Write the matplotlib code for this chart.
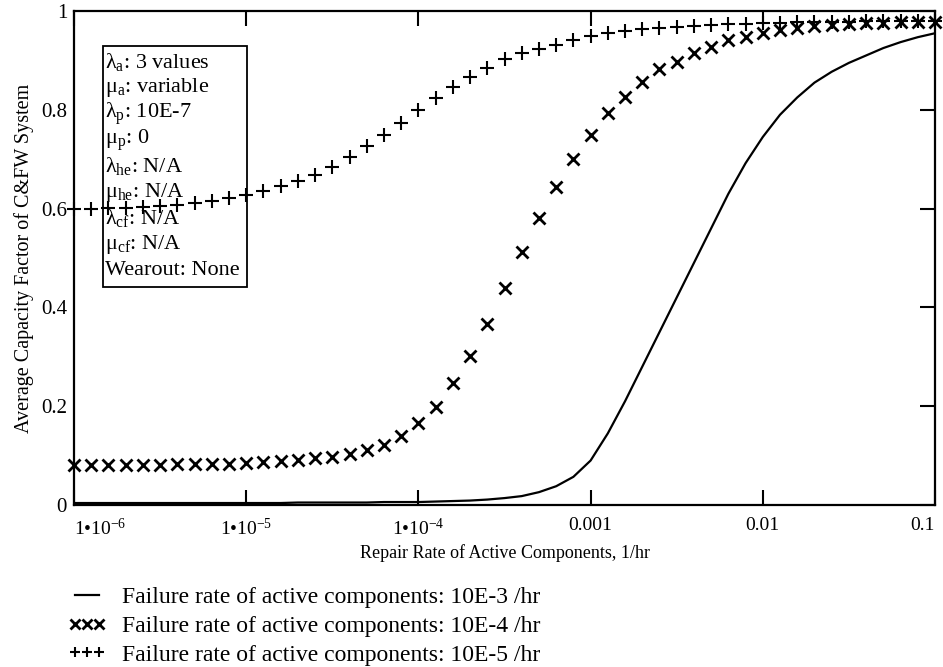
import numpy as np
import matplotlib.pyplot as plt
from matplotlib.patches import Rectangle
from matplotlib.ticker import NullLocator

plt.rcParams['font.family'] = ['Liberation Serif', 'DejaVu Serif']
plt.rcParams['mathtext.fontset'] = 'custom'
plt.rcParams['mathtext.rm'] = 'Liberation Serif'
plt.rcParams['mathtext.it'] = 'Liberation Serif:italic'

# Repair rate grid, 10 points per decade (1/hr)
repair_rate = np.logspace(-6, -1, 51)

# Average capacity factor for three active-component failure rates
acf_fail_1e3 = [0.004, 0.004, 0.004, 0.004, 0.004, 0.004, 0.004, 0.004, 0.004, 0.004,
                0.004, 0.004, 0.004, 0.005, 0.005, 0.005, 0.005, 0.005, 0.006, 0.006,
                0.006, 0.007, 0.008, 0.009, 0.011, 0.014, 0.018, 0.026, 0.038, 0.057,
                0.090, 0.145, 0.210, 0.280, 0.350, 0.420, 0.490, 0.560, 0.630, 0.692,
                0.745, 0.790, 0.825, 0.855, 0.877, 0.895, 0.910, 0.925, 0.937, 0.947,
                0.955]
acf_fail_1e4 = [0.081, 0.081, 0.081, 0.081, 0.081, 0.081, 0.082, 0.082, 0.083, 0.083,
                0.085, 0.087, 0.089, 0.092, 0.095, 0.098, 0.104, 0.111, 0.121, 0.139,
                0.165, 0.199, 0.246, 0.302, 0.367, 0.439, 0.512, 0.581, 0.643, 0.700,
                0.750, 0.794, 0.825, 0.857, 0.883, 0.897, 0.915, 0.927, 0.942, 0.948,
                0.956, 0.962, 0.966, 0.970, 0.972, 0.974, 0.975, 0.976, 0.977, 0.977,
                0.978]
acf_fail_1e5 = [0.600, 0.600, 0.601, 0.602, 0.603, 0.605, 0.608, 0.611, 0.615, 0.621,
                0.628, 0.636, 0.645, 0.656, 0.669, 0.685, 0.705, 0.726, 0.750, 0.774,
                0.799, 0.824, 0.847, 0.867, 0.885, 0.903, 0.914, 0.923, 0.932, 0.941,
                0.950, 0.956, 0.960, 0.964, 0.966, 0.968, 0.970, 0.972, 0.973, 0.974,
                0.975, 0.976, 0.977, 0.977, 0.978, 0.978, 0.979, 0.979, 0.979, 0.980,
                0.980]

series_labels = ['Failure rate of active components: 10E-3 /hr',
                 'Failure rate of active components: 10E-4 /hr',
                 'Failure rate of active components: 10E-5 /hr']

xtick_pos = [1e-6, 1e-5, 1e-4, 1e-3, 1e-2, 1e-1]
xtick_labels = [r'$\mathregular{1•10^{-6}}$', r'$\mathregular{1•10^{-5}}$',
                r'$\mathregular{1•10^{-4}}$', '0.001', '0.01', '0.1']
ytick_pos = [0, 0.2, 0.4, 0.6, 0.8, 1.0]
ytick_labels = ['0', '0.2', '0.4', '0.6', '0.8', '1']

param_lines = [r'λ$_{\mathregular{a}}$: 3 values',
               r'μ$_{\mathregular{a}}$: variable',
               r'λ$_{\mathregular{p}}$: 10E-7',
               r'μ$_{\mathregular{p}}$: 0',
               r'λ$_{\mathregular{he}}$: N/A',
               r'μ$_{\mathregular{he}}$: N/A',
               r'λ$_{\mathregular{cf}}$: N/A',
               r'μ$_{\mathregular{cf}}$: N/A',
               'Wearout: None']

fig = plt.figure(figsize=(9.43, 6.67), dpi=100)
ax = fig.add_axes([74 / 943, 1 - 505 / 667, 861 / 943, 494 / 667])

ax.plot(repair_rate, acf_fail_1e3, color='black', lw=1.6,
        label=series_labels[0])
ax.plot(repair_rate, acf_fail_1e4, ls='none', marker='x', ms=9, mew=2.0,
        color='black', clip_on=False, label=series_labels[1])
ax.plot(repair_rate, acf_fail_1e5, ls='none', marker='+', ms=10, mew=1.5,
        color='black', clip_on=False, label=series_labels[2])

ax.set_xscale('log')
ax.set_xlim(1e-6, 0.1)
ax.set_ylim(0, 1)
ax.xaxis.set_minor_locator(NullLocator())
ax.set_xticks(xtick_pos)
ax.set_xticklabels(xtick_labels, fontsize=14)
ax.set_yticks(ytick_pos)
ax.set_yticklabels(ytick_labels, fontsize=15)

# first and last labels are pulled inside the axis span
xt = ax.get_xticklabels()
xt[0].set_horizontalalignment('left')
xt[-1].set_horizontalalignment('right')

ax.tick_params(axis='x', direction='in', length=11, width=1.5,
               top=True, bottom=True, pad=9)
ax.tick_params(axis='y', direction='in', length=11, width=1.5,
               left=False, right=True, pad=5)
for sp in ax.spines.values():
    sp.set_linewidth(1.6)

ax.set_xlabel('Repair Rate of Active Components, 1/hr', fontsize=13, labelpad=4)
ax.set_ylabel('Average Capacity Factor of C&FW System', fontsize=14.5, labelpad=5)

# parameter box
ax.add_patch(Rectangle((0.034, 0.441), 0.167, 0.488, transform=ax.transAxes,
                       fill=False, lw=1.3, ec='black', zorder=1))
for i, line in enumerate(param_lines):
    ax.text(0.036, 0.897 - i * 0.0528, line, transform=ax.transAxes,
            fontsize=16, ha='left', va='center', zorder=1)

ax.legend(loc='upper left', bbox_to_anchor=(0.072, 0.12),
          bbox_transform=fig.transFigure, frameon=False, numpoints=3,
          markerscale=0.75, fontsize=17, handlelength=1.6, handletextpad=0.7,
          labelspacing=0.3, borderpad=0, borderaxespad=0)

fig.savefig('out.png', dpi=100)
